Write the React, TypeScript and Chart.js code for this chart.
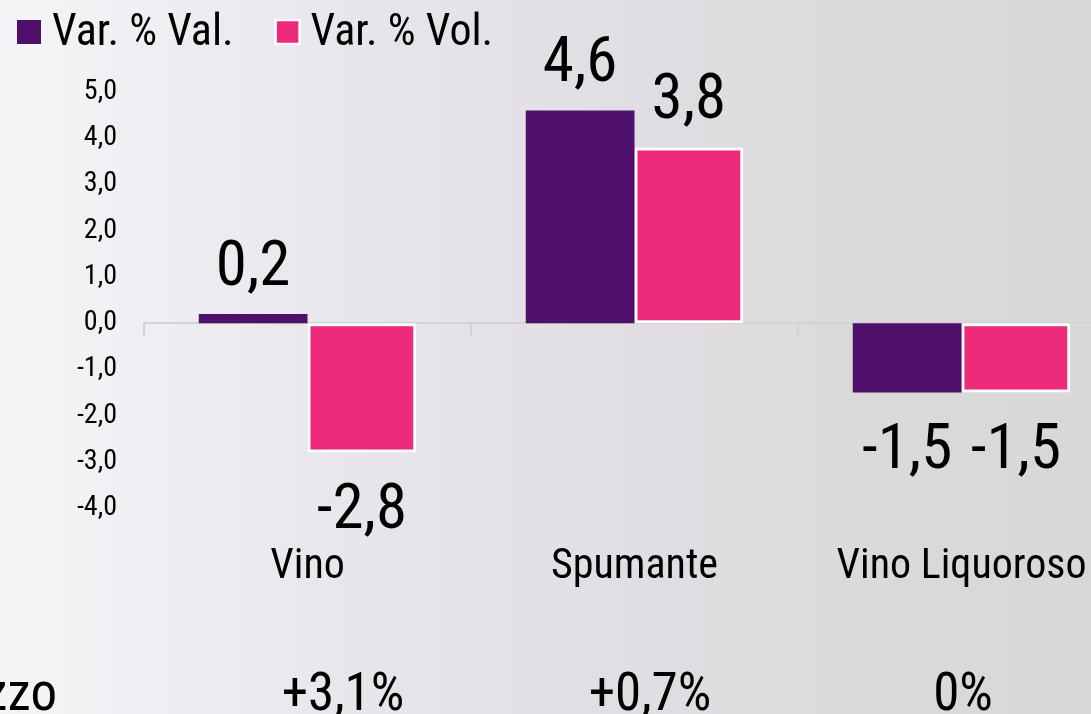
import React, { useEffect, useRef } from 'react';
import { Chart, registerables } from 'chart.js';

Chart.register(...registerables);

// ---- data ----
const categories = ['Vino', 'Spumante', 'Vino Liquoroso'];
const seriesNames = ['Var. % Val.', 'Var. % Vol.'];
const valChange = [0.2, 4.6, -1.5];
const volChange = [-2.8, 3.8, -1.5];
const yTickValues = [5, 4, 3, 2, 1, 0, -1, -2, -3, -4];
const priceLabel = 'Prezzo';
const priceChanges = ['+3,1%', '+0,7%', '0%'];

const FONT = "'Roboto Condensed', Roboto, sans-serif";
const PURPLE = '#4e106a';
const PINK = '#ee2a7b';
const LABEL_SIZE = 63;
const LEGEND_SIZE = 44;

const fmt = (v: number) => v.toFixed(1).replace('.', ',');

const barLabels = {
  id: 'barLabels',
  afterDatasetsDraw(chart: any) {
    const ctx = chart.ctx;
    ctx.save();
    ctx.font = `normal 400 ${LABEL_SIZE}px ${FONT}`;
    ctx.fillStyle = '#000';
    ctx.textAlign = 'center';
    ctx.textBaseline = 'alphabetic';
    chart.data.datasets.forEach((ds: any, di: number) => {
      const meta = chart.getDatasetMeta(di);
      meta.data.forEach((bar: any, i: number) => {
        const v = ds.data[i] as number;
        const { x, y } = bar.getProps(['x', 'y'], true);
        const t = fmt(v);
        if (v >= 0) ctx.fillText(t, x, y - 29);
        else ctx.fillText(t, x, y + 31 + LABEL_SIZE * 0.711);
      });
    });
    ctx.restore();
  },
};

const customLegend = {
  id: 'customLegend',
  afterDraw(chart: any) {
    const ctx = chart.ctx;
    ctx.save();
    ctx.font = `normal 400 ${LEGEND_SIZE}px ${FONT}`;
    ctx.textAlign = 'left';
    ctx.textBaseline = 'alphabetic';
    let x = 17;
    const boxTop = 20;
    const box = 24;
    chart.data.datasets.forEach((ds: any) => {
      ctx.fillStyle = ds.backgroundColor;
      ctx.fillRect(x, boxTop, box, box);
      if (ds.borderWidth) {
        ctx.strokeStyle = ds.borderColor;
        ctx.lineWidth = 2.5;
        ctx.strokeRect(x, boxTop, box, box);
      }
      ctx.fillStyle = '#000';
      const tx = x + 35;
      ctx.fillText(ds.label, tx, 45);
      x = tx + ctx.measureText(ds.label).width + 42;
    });
    ctx.restore();
  },
};

export default function App() {
  const ref = useRef<HTMLCanvasElement | null>(null);

  useEffect(() => {
    if (!ref.current) return;
    const chart = new Chart(ref.current, {
      type: 'bar',
      data: {
        labels: categories,
        datasets: [
          {
            label: seriesNames[0],
            data: valChange,
            backgroundColor: PURPLE,
            borderColor: PURPLE,
            borderWidth: 0,
            categoryPercentage: 0.665,
            barPercentage: 1,
          },
          {
            label: seriesNames[1],
            data: volChange,
            backgroundColor: PINK,
            borderColor: '#ffffff',
            borderWidth: 3,
            borderSkipped: false,
            categoryPercentage: 0.665,
            barPercentage: 1,
          },
        ],
      },
      options: {
        responsive: false,
        animation: false,
        layout: { padding: { top: 92, right: 5, bottom: 87.5, left: 0 } },
        plugins: {
          legend: { display: false },
          tooltip: { enabled: false },
        },
        scales: {
          x: {
            type: 'category',
            position: 'bottom',
            grid: { display: false, drawTicks: false },
            border: { display: false },
            ticks: {
              font: { family: FONT, size: 42 },
              color: '#000',
              padding: 34,
              maxRotation: 0,
              autoSkip: false,
            },
          },
          x2: {
            type: 'category',
            position: { y: 0 } as any,
            offset: true,
            grid: {
              display: true,
              offset: true,
              drawOnChartArea: false,
              drawTicks: true,
              tickLength: 13,
              color: '#d3d3d3',
              lineWidth: 2,
            },
            border: { display: true, color: '#d3d3d3', width: 2 },
            ticks: { display: false },
          },
          y: {
            min: -4,
            max: 5,
            afterBuildTicks: (s: any) => {
              s.ticks = yTickValues.map((v) => ({ value: v }));
            },
            afterFit: (s: any) => {
              s.width = 144;
            },
            grid: { display: false, drawTicks: false },
            border: { display: false },
            ticks: {
              font: { family: FONT, size: 28 },
              color: '#000',
              padding: 27,
              callback: (v: any) => fmt(Number(v)),
            },
          },
        },
      },
      plugins: [barLabels, customLegend],
    });
    return () => chart.destroy();
  }, []);

  const priceCenters = [343, 650, 963];
  const rowStyle = {
    position: 'absolute' as const,
    top: 666,
    fontSize: 53,
    lineHeight: '53px',
    color: '#000',
    whiteSpace: 'nowrap' as const,
  };

  return (
    <div
      style={{
        position: 'fixed',
        left: 0,
        top: 0,
        width: 1091,
        height: 714,
        overflow: 'hidden',
        background:
          'linear-gradient(90deg, #f5f4f7 0%, #e8e5ea 35%, #dfdde1 62%, #d9d9d9 85%, #d8d8d8 100%)',
        fontFamily: FONT,
      }}
    >
      <canvas
        ref={ref}
        width={1130}
        height={714}
        style={{ position: 'absolute', left: 0, top: 0, width: 1130, height: 714 }}
      />
      <div style={{ ...rowStyle, right: 1091 - 57 }}>{priceLabel}</div>
      {priceChanges.map((t, i) => (
        <div key={t} style={{ ...rowStyle, left: priceCenters[i], transform: 'translateX(-50%)' }}>
          {t}
        </div>
      ))}
    </div>
  );
}
